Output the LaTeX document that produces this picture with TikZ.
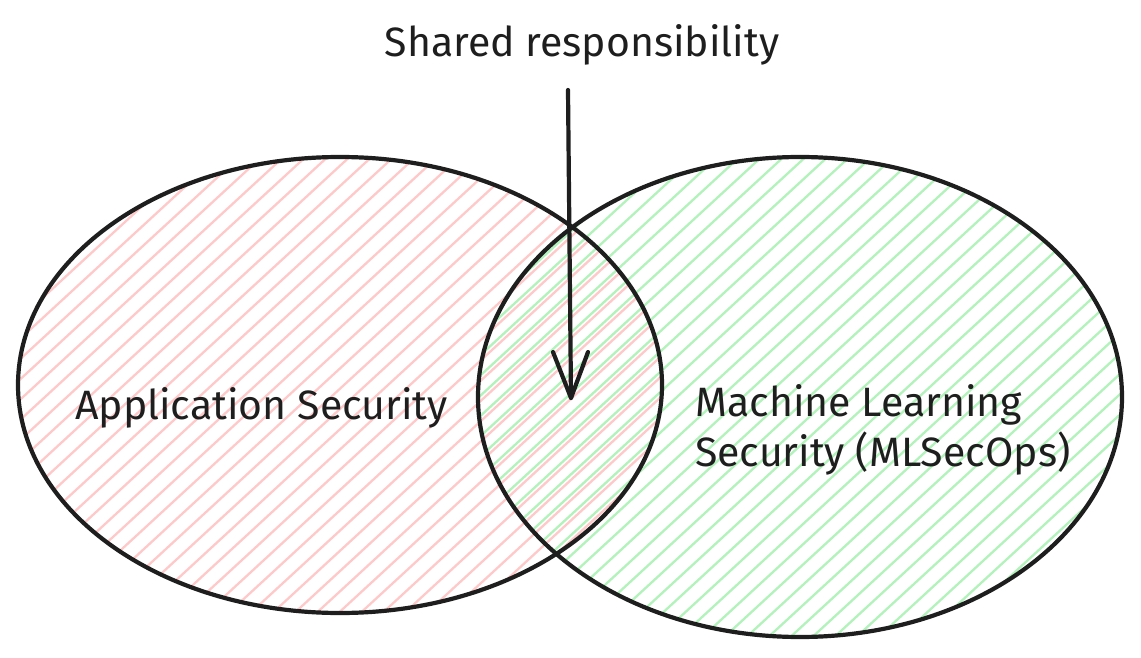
\documentclass[tikz,border=0pt]{standalone}
\usepackage{fontspec}
\setmainfont{Fira Sans}
\usetikzlibrary{shapes.geometric,calc}
\definecolor{ink}{HTML}{1E1E1E}
\definecolor{pinkhatch}{HTML}{FFC9C9}
\definecolor{greenhatch}{HTML}{B2F2BB}
\begin{document}
\begin{tikzpicture}[x=1pt,y=-1pt,
  outline/.style={draw=ink,line width=4.2pt},
  hatchline/.style={line width=2.3pt,line cap=round},
  label/.style={font=\fontsize{41}{50}\selectfont,text=ink,inner sep=0pt},
  arrowline/.style={draw=ink,line width=4.2pt,line cap=round,line join=round}]
\useasboundingbox (0,0) rectangle (1141,658);
% left set hatching
\begin{scope}
  \clip (340,385) ellipse [x radius=322, y radius=228];
  \foreach \k in {-900,-878,...,1200} {
    \draw[hatchline,pinkhatch] (\k,700) -- ({\k+760},0);
  }
\end{scope}
% right set hatching
\begin{scope}
  \clip (800,397) ellipse [x radius=322, y radius=240];
  \foreach \k in {-400,-378,...,1700} {
    \draw[hatchline,greenhatch] (\k,700) -- ({\k+760},0);
  }
\end{scope}
% outlines
\node[outline,ellipse,minimum width=644pt,minimum height=456pt,inner sep=0pt] (appsec) at (340,385) {};
\node[outline,ellipse,minimum width=644pt,minimum height=480pt,inner sep=0pt] (mlsec) at (800,397) {};
% labels
\node[label] (shared) at (582,45) {Shared responsibility};
\node[label,anchor=west] (applabel) at (75,408) {Application Security};
\node[label,anchor=west,align=left] (mllabel) at (695,430) {Machine Learning\\Security (MLSecOps)};
% arrow
\coordinate (tip) at (571,398);
\coordinate (tail) at (568,90);
\draw[arrowline] (tail) -- (tip);
\draw[arrowline] ($(tip)+(-18,-46)$) -- (tip) -- ($(tip)+(17,-46)$);
\end{tikzpicture}
\end{document}
